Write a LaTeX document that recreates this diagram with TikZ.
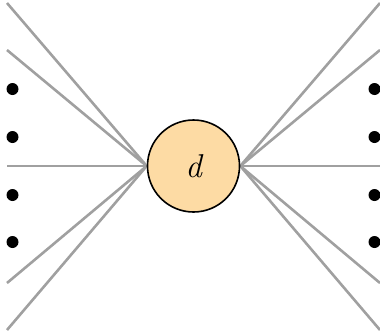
\documentclass[tikz,border=0pt]{standalone}
\usepackage{xcolor}
\usepackage{tikz}
\usetikzlibrary{positioning,backgrounds}
\definecolor{softorange}{RGB}{253,219,164}
\definecolor{edgegray}{RGB}{160,160,160}

\begin{document}
\begin{tikzpicture}[x=1pt, y=-1pt, line join=round, line cap=round,
    edge/.style={edgegray, line width=2.6pt},
    vertex/.style={circle, draw=black, line width=1.6pt, fill=softorange, minimum size=92pt, inner sep=0pt, font=\fontsize{33}{35}\selectfont\itshape},
    dot/.style={fill=black}]
    \useasboundingbox (0,0) rectangle (380,335);

    % central vertex
    \node[vertex] (d) at (193.5,166) {d};

    % free ends on both sides
    \coordinate (L1) at (7,3);
    \coordinate (L2) at (7,50);
    \coordinate (L3) at (7,166);
    \coordinate (L4) at (7,283);
    \coordinate (L5) at (7,330);
    \coordinate (R1) at (380,3);
    \coordinate (R2) at (380,50);
    \coordinate (R3) at (380,166);
    \coordinate (R4) at (380,283);
    \coordinate (R5) at (380,330);

    % edges, behind the vertex
    \begin{scope}[on background layer]
    \foreach \i in {1,...,5} {
        \draw[edge] (d.west) -- (L\i);
        \draw[edge] (d.east) -- (R\i);
    }
    \end{scope}

    % dots
    \foreach \y in {89,137,195,242} {
        \fill[dot] (12.5,\y) circle (6);
        \fill[dot] (374.5,\y) circle (6);
    }
\end{tikzpicture}
\end{document}
